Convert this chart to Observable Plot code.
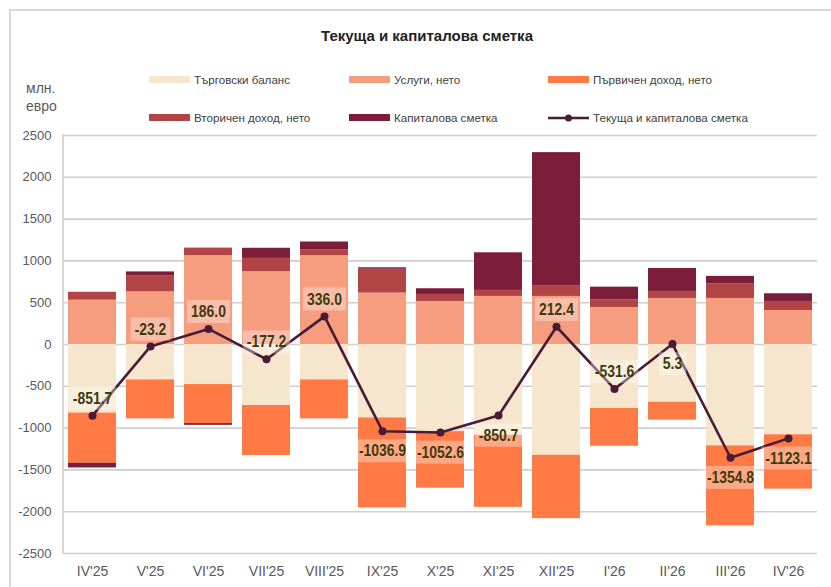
<!DOCTYPE html>
<html>
<head>
<meta charset="utf-8">
<script src="https://cdn.jsdelivr.net/npm/d3@7"></script>
<script src="https://cdn.jsdelivr.net/npm/@observablehq/plot@0.6"></script>
<style>
  html, body { margin: 0; padding: 0; background: #fff; }
  #wrap { position: relative; width: 831px; height: 587px; overflow: hidden; font-family: "Liberation Sans", Arial, sans-serif; }
  #frame { position: absolute; left: 9px; top: 9px; width: 900px; height: 700px; border-left: 2px solid #d9d9d9; border-top: 2px solid #d9d9d9; }
  #title { position: absolute; left: 0; width: 854px; top: 27px; text-align: center; font-weight: bold; font-size: 15px; color: #222; }
  .unit { position: absolute; left: 26px; font-size: 14px; color: #595959; }
  .leg { position: absolute; font-size: 11.6px; color: #404040; white-space: nowrap; display: flex; align-items: center; }
  .sw { display: inline-block; width: 41px; height: 7px; margin-right: 4px; }
  #chart { position: absolute; left: 0; top: 125px; }
</style>
</head>
<body>
<div id="wrap">
  <div id="frame"></div>
  <div id="title"></div>
  <div class="unit" style="top:80px">млн.</div>
  <div class="unit" style="top:98px">евро</div>
  <div id="legend"></div>
  <div id="chart"></div>
</div>
<script>
const categories = ["IV'25","V'25","VI'25","VII'25","VIII'25","IX'25","X'25","XI'25","XII'25","I'26","II'26","III'26","IV'26"];
const seriesNames = ["Търговски баланс","Услуги, нето","Първичен доход, нето","Вторичен доход, нето","Капиталова сметка"];
const lineName = "Текуща и капиталова сметка";
const trade     = [-820,-423,-479,-730,-423,-878,-1042,-1085,-1325,-765,-690,-1212,-1080];
const services  = [530,630,1062,870,1062,615,515,575,575,443,551,551,407];
const primary   = [-600,-467,-467,-598,-467,-1077,-677,-863,-758,-453,-215,-958,-650];
const secondary = [95,188,91,160,68,285,84,72,123,92,84,176,108];
const capital   = [-57,50,-21,121,96,18,68,450,1597,151,275,88,92];
const total     = [-851.7,-23.2,186.0,-177.2,336.0,-1036.9,-1052.6,-850.7,212.4,-531.6,5.3,-1354.8,-1123.1];
const labelSide = ["above","above","above","above","above","below","below","below","above","above","below","below","below"];
const yTicks = [-2500,-2000,-1500,-1000,-500,0,500,1000,1500,2000,2500];
const colors = ["#F6E6CE","#F69C7F","#FF7A45","#B34445","#7C1D3A"];
const lineColor = "#4A1B36";

document.getElementById("title").textContent = "Текуща и капиталова сметка";

// legend
const legPos = [[149,73],[349,73],[548,73],[149,111],[349,111]];
const legend = document.getElementById("legend");
seriesNames.forEach((n,i)=>{
  const d = document.createElement("div");
  d.className = "leg";
  d.style.left = legPos[i][0]+"px"; d.style.top = legPos[i][1]+"px";
  d.innerHTML = `<span class="sw" style="background:${colors[i]}"></span><span>${n}</span>`;
  legend.appendChild(d);
});
{
  const d = document.createElement("div");
  d.className = "leg";
  d.style.left = "548px"; d.style.top = "111px";
  d.innerHTML = `<svg width="43" height="10" style="margin-right:2px"><line x1="0" y1="5" x2="41" y2="5" stroke="${lineColor}" stroke-width="2.5"/><circle cx="20.5" cy="5" r="3.5" fill="${lineColor}"/></svg><span>${lineName}</span>`;
  legend.appendChild(d);
}

const series = [trade, services, primary, secondary, capital];
const rows = [];
categories.forEach((c,i)=>{
  series.forEach((s,k)=>rows.push({cat:c, series:seriesNames[k], value:s[i]}));
});
const lineRows = categories.map((c,i)=>({cat:c, value:total[i], side:labelSide[i], label:total[i].toFixed(1)}));

const labelFont = "'Liberation Sans', Arial, sans-serif";
const plot = Plot.plot({
  width: 831,
  height: 462,
  marginLeft: 63,
  marginRight: 14,
  marginTop: 10,
  marginBottom: 34,
  style: {fontFamily: "'Liberation Sans', Arial, sans-serif", background: "transparent"},
  x: {domain: categories, paddingInner: 0.17, paddingOuter: 0.085, label: null},
  y: {domain: [-2500, 2500], label: null},
  color: {domain: seriesNames, range: colors},
  marks: [
    Plot.gridY(yTicks, {stroke: "#cfcfcf", strokeOpacity: 1, strokeWidth: 1.6}),
    Plot.barY(rows, {x: "cat", y: "value", fill: "series"}),
    Plot.line(lineRows, {x: "cat", y: "value", stroke: lineColor, strokeWidth: 2.6}),
    Plot.dot(lineRows, {x: "cat", y: "value", r: 4, fill: lineColor}),
    Plot.text(lineRows.filter(d=>d.side==="above"), {x: "cat", y: "value", text: "label", dy: -17, fontSize: 16, fontWeight: "bold", fill: "#3d3a0c", fontFamily: labelFont}),
    Plot.text(lineRows.filter(d=>d.side==="below"), {x: "cat", y: "value", text: "label", dy: 20, fontSize: 16, fontWeight: "bold", fill: "#3d3a0c", fontFamily: labelFont}),
    Plot.axisY(yTicks, {tickSize: 0, tickPadding: 12, fontSize: 13, fill: "#595959", tickFormat: d=>String(d)}),
    Plot.axisX({tickSize: 0, tickPadding: 13, fontSize: 14, fill: "#595959"})
  ]
});
document.getElementById("chart").appendChild(plot);

// condense data labels and add translucent boxes behind them
plot.querySelectorAll('g[aria-label="text"] text').forEach(t=>{
  const w = t.getComputedTextLength();
  t.setAttribute("textLength", (w*0.87).toFixed(1));
  t.setAttribute("lengthAdjust", "spacingAndGlyphs");
  const b = t.getBBox();
  const r = document.createElementNS("http://www.w3.org/2000/svg","rect");
  r.setAttribute("x", b.x-4); r.setAttribute("y", b.y-3);
  r.setAttribute("width", b.width+8); r.setAttribute("height", b.height+6);
  r.setAttribute("fill", "#ffffff"); r.setAttribute("fill-opacity", "0.35");
  if (t.getAttribute("transform")) r.setAttribute("transform", t.getAttribute("transform"));
  t.parentNode.insertBefore(r, t);
});

// left axis line
const xr = plot.scale("x").range, yr = plot.scale("y").range;
const ax = document.createElementNS("http://www.w3.org/2000/svg","line");
ax.setAttribute("x1", xr[0]); ax.setAttribute("x2", xr[0]);
ax.setAttribute("y1", yr[0]+1); ax.setAttribute("y2", yr[1]-1);
ax.setAttribute("stroke", "#cfcfcf"); ax.setAttribute("stroke-width", "1.6");
plot.appendChild(ax);
</script>
</body>
</html>
